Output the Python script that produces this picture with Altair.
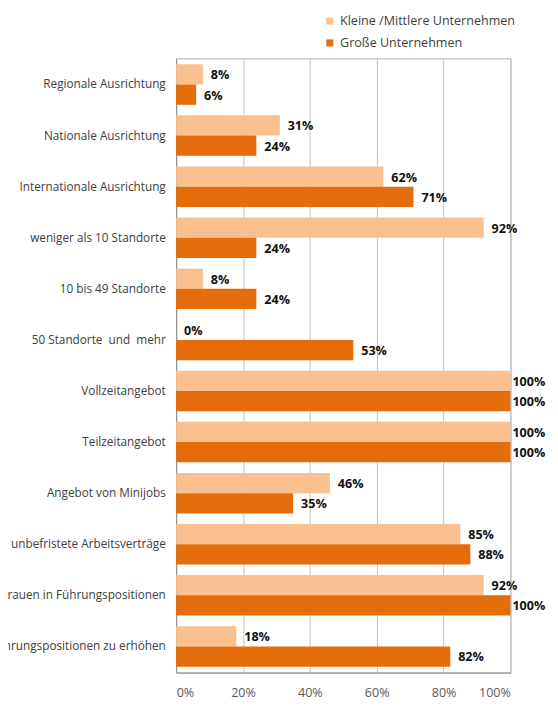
import altair as alt
import pandas as pd

categories = [
    "Regionale Ausrichtung",
    "Nationale Ausrichtung",
    "Internationale Ausrichtung",
    "weniger als 10 Standorte",
    "10 bis 49 Standorte\u00a0\u00a0",
    "50 Standorte\u00a0 und\u00a0 mehr",
    "Vollzeitangebot",
    "Teilzeitangebot",
    "Angebot von Minijobs",
    "unbefristete Arbeitsverträge",
    "Frauen in Führungspositionen",
    "Ziel, den Frauenanteil in Führungspositionen zu erhöhen",
]
series = ["Kleine /Mittlere Unternehmen", "Große Unternehmen"]
kleine = [8, 31, 62, 92, 8, 0, 100, 100, 46, 85, 92, 18]
grosse = [6, 24, 71, 24, 24, 53, 100, 100, 35, 88, 100, 82]
colors = ["#FAC090", "#E46C0A"]

rows = []
for i, c in enumerate(categories):
    rows.append({"cat": c, "series": series[0], "value": kleine[i] / 100})
    rows.append({"cat": c, "series": series[1], "value": grosse[i] / 100})
df = pd.DataFrame(rows)

FONT = "Open Sans"
FS = 12.7
FS_Y = 11.9

y_enc = alt.Y(
    "cat:N",
    sort=categories,
    title=None,
    scale=alt.Scale(paddingInner=0.207, paddingOuter=0.116, align=0.5),
    axis=alt.Axis(
        ticks=False,
        labelPadding=11,
        labelLimit=0,
        labelFontSize=FS_Y,
        labelFont=FONT,
        labelColor="#404040",
        domainColor="#8C8C8C",
    ),
)
yoff = alt.YOffset("series:N", sort=series, scale=alt.Scale(domain=series))
x_enc = alt.X(
    "value:Q",
    title=None,
    scale=alt.Scale(domain=[0, 1], nice=False),
    axis=alt.Axis(
        format="%",
        values=[0, 0.2, 0.4, 0.6, 0.8, 1.0],
        ticks=False,
        labelPadding=14,
        labelFontSize=FS,
        labelFont=FONT,
        labelColor="#595959",
        gridColor="#C0C0C0",
        domainColor="#8C8C8C",
    ),
)

base = alt.Chart(df)

bars = base.mark_bar().encode(
    y=y_enc,
    yOffset=yoff,
    x=x_enc,
    color=alt.Color(
        "series:N",
        scale=alt.Scale(domain=series, range=colors),
        legend=alt.Legend(
            title=None,
            orient="none",
            legendX=149,
            legendY=-44,
            symbolType="square",
            symbolSize=50,
            symbolStrokeWidth=0,
            labelFontSize=FS,
            labelFont=FONT,
            labelColor="#404040",
            labelLimit=0,
            rowPadding=8,
            padding=0,
        ),
    ),
)

text_style = dict(align="left", baseline="middle", fontWeight="bold", fontSize=FS, font=FONT, color="#111111")

labels_a = base.transform_filter("datum.value < 1").mark_text(dx=8, dy=1, **text_style).encode(
    y=alt.Y("cat:N", sort=categories),
    yOffset=yoff,
    x=alt.X("value:Q"),
    text=alt.Text("value:Q", format=".0%"),
)
labels_b = base.transform_filter("datum.value >= 1").mark_text(dx=2, dy=1, **text_style).encode(
    y=alt.Y("cat:N", sort=categories),
    yOffset=yoff,
    x=alt.X("value:Q"),
    text=alt.Text("value:Q", format=".0%"),
)

chart = (
    alt.layer(bars, labels_a, labels_b)
    .properties(
        width=338,
        height=621,
        autosize=alt.AutoSizeParams(type="none"),
        padding={"left": 170, "top": 47, "right": 40, "bottom": 40},
        background="white",
    )
    .configure_view(stroke="#B0B0B0", strokeWidth=1)
)

chart.save("out.html", embed_options={"renderer": "svg", "actions": False})
